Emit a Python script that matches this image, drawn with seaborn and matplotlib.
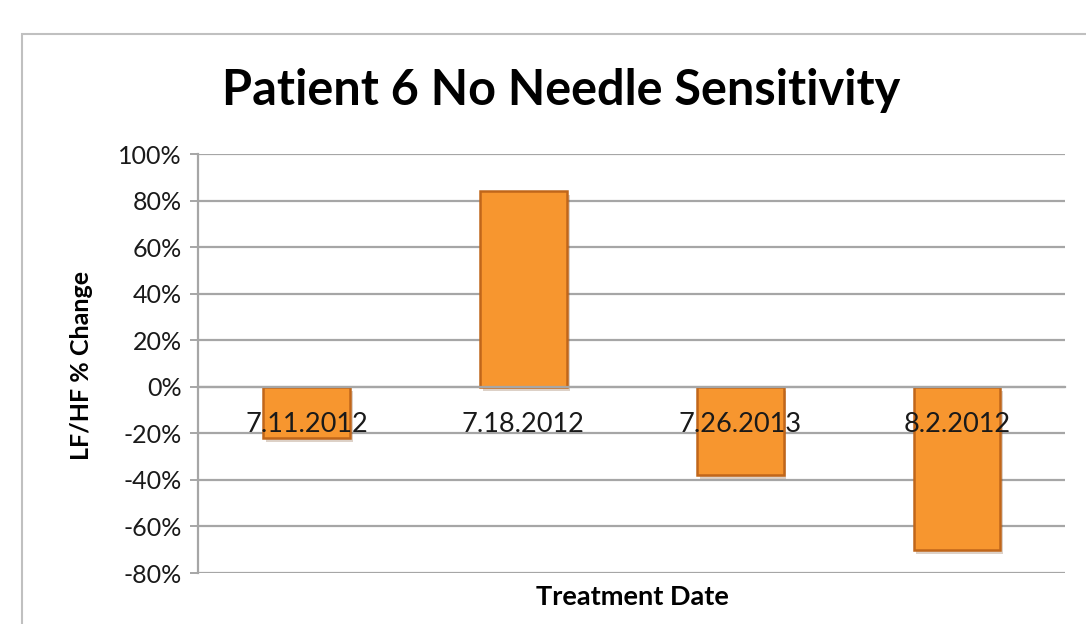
import matplotlib
matplotlib.use("Agg")
import matplotlib.pyplot as plt
import matplotlib.patches as mpatches
import matplotlib.patheffects as pe
import matplotlib.ticker as mticker
import pandas as pd
import seaborn as sns

# values
dates = ["7.11.2012", "7.18.2012", "7.26.2013", "8.2.2012"]
pct_change = [-0.22, 0.84, -0.38, -0.70]
y_ticks = [-0.8, -0.6, -0.4, -0.2, 0.0, 0.2, 0.4, 0.6, 0.8, 1.0]

df = pd.DataFrame({"date": dates, "change": pct_change})

sns.set_theme(style="white")
plt.rcParams["font.family"] = ["Lato", "DejaVu Sans"]
plt.rcParams["axes.unicode_minus"] = False

fig = plt.figure(figsize=(10.86, 6.24), dpi=100)
fig.patch.set_facecolor("white")
ax = fig.add_axes([0.1825, 0.0817, 0.7985, 0.6715])

sns.barplot(data=df, x="date", y="change", color="#F7962F", width=0.4,
            edgecolor="#C0661A", linewidth=1.8, saturation=1, ax=ax)

# soft drop shadow like the bevelled office bars
for bar in ax.patches:
    bar.set_path_effects([pe.SimplePatchShadow(offset=(2, -3), alpha=0.25,
                                               shadow_rgbFace="#7a4a20"),
                          pe.Normal()])

ax.set_ylim(-0.8, 1.0)
ax.set_yticks(y_ticks)
ax.yaxis.set_major_formatter(mticker.PercentFormatter(1.0, decimals=0))
ax.yaxis.grid(True, color="#A6A6A6", linewidth=1.6)
ax.set_axisbelow(True)

for side in ["top", "right"]:
    ax.spines[side].set_visible(False)
ax.spines["left"].set_color("#A6A6A6")
ax.spines["left"].set_linewidth(1.6)
ax.spines["bottom"].set_position(("data", 0))
ax.spines["bottom"].set_color("#A6A6A6")
ax.spines["bottom"].set_linewidth(1.6)

ax.tick_params(axis="y", length=6, width=1.4, color="#A6A6A6",
               labelsize=18, pad=6, left=True, labelcolor="#1a1a1a")
ax.tick_params(axis="x", length=0, labelbottom=False)

# category labels sit at the zero line, drawn on top of the bars
for i, d in enumerate(dates):
    ax.annotate(d, xy=(i, 0), xytext=(0, -27), textcoords="offset points",
                ha="center", va="center", fontsize=19.5, color="#1a1a1a",
                zorder=5)

ax.set_xlabel("")
ax.set_ylabel("")

fig.text(0.0755, 0.415, "LF/HF % Change", rotation=90, ha="center", va="center",
         fontsize=18, fontweight="bold", color="black")
fig.text(0.582, 0.043, "Treatment Date", ha="center", va="center",
         fontsize=19.5, fontweight="bold", color="black")
fig.text(0.517, 0.855, "Patient 6 No Needle Sensitivity", ha="center", va="center",
         fontsize=35, fontweight="bold", color="black")

# outer chart frame
frame = mpatches.Rectangle((0.0203, -0.05), 1.1, 0.995, transform=fig.transFigure,
                           fill=False, edgecolor="#C0C0C0", linewidth=1.5)
fig.patches.append(frame)

fig.savefig("out.png", dpi=100)
